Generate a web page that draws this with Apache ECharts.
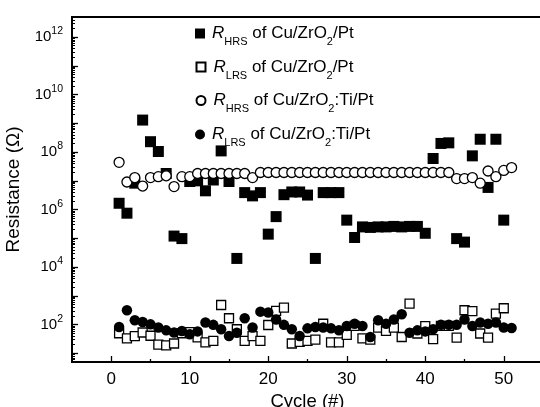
<!DOCTYPE html>
<html>
<head>
<meta charset="utf-8">
<script src="https://cdn.jsdelivr.net/npm/echarts@6/dist/echarts.min.js"></script>
<style>html,body{margin:0;padding:0;background:#fff}#c{width:540px;height:407px}</style>
</head>
<body>
<div id="c"></div>
<script>
const cyclesA = [1,2,3,4,5,6,7,8,9,10,11,12,13,14,15,16,17,18,19,20,21,22,23,24,25,26,27,28,29,30,31,32,33,34,35,36,37,38,39,40,41,42,43,44,45,46,47,48,49,50];
const cyclesB = [1,2,3,4,5,6,7,8,9,10,11,12,13,14,15,16,17,18,19,20,21,22,23,24,25,26,27,28,29,30,31,32,33,34,35,36,37,38,39,40,41,42,43,44,45,46,47,48,49,50,51];

// R_HRS of Cu/ZrO2/Pt (filled squares)
const hrsPt = [1.66e6,7.5e5,8.3e6,1.3e9,2.3e8,1.05e8,1.8e7,1.2e5,9.8e4,9.5e6,1.0e7,4.5e6,1.07e7,1.1e8,9.5e6,2.0e4,3.9e6,3.0e6,3.9e6,1.4e5,5.7e5,3.3e6,4.1e6,4.1e6,3.2e6,2.0e4,3.9e6,3.9e6,3.9e6,4.3e5,1.07e5,2.5e5,2.4e5,2.5e5,2.5e5,2.6e5,2.5e5,2.6e5,2.6e5,1.5e5,6.0e7,2.0e8,2.1e8,9.8e4,7.4e4,7.4e7,2.8e8,5.9e6,2.8e8,4.3e5];
// R_LRS of Cu/ZrO2/Pt (open squares)
const lrsPt = [50,33,40,53,41,20,19,22,50,55,36,24,27,480,166,69,27,40,27,97,300,390,22,25,27,30,107,24,24,44,90,33,30,79,60,79,37,540,49,89,31,90,90,35,316,295,49,35,240,370];
// R_HRS of Cu/ZrO2:Ti/Pt (open circles)
const hrsTi = [4.4e7,9.1e6,1.3e7,6.6e6,1.3e7,1.4e7,1.5e7,6.3e6,1.4e7,1.4e7,1.8e7,1.8e7,1.8e7,1.8e7,1.8e7,1.8e7,1.8e7,1.3e7,1.95e7,1.95e7,1.95e7,1.95e7,1.95e7,1.95e7,1.95e7,1.95e7,1.95e7,1.95e7,1.95e7,1.95e7,1.95e7,1.95e7,1.95e7,1.95e7,1.95e7,1.95e7,1.95e7,1.95e7,1.95e7,1.95e7,1.95e7,1.95e7,1.95e7,1.2e7,1.2e7,1.3e7,8.3e6,2.2e7,1.4e7,2.3e7,2.9e7];
// R_LRS of Cu/ZrO2:Ti/Pt (filled circles)
const lrsTi = [83,316,141,123,102,79,63,53,60,46,58,118,98,69,40,52,166,79,282,262,151,98,69,40,74,83,79,74,63,89,107,89,37,141,107,151,229,52,63,58,69,98,98,98,151,89,118,107,118,79,76];

const xMajorTicks = [0,10,20,30,40,50];
const xMinorTicks = [5,15,25,35,45];
const yMajorTicks = [1e1,1e2,1e3,1e4,1e5,1e6,1e7,1e8,1e9,1e10,1e11,1e12];
const yLabelTicks = [1e2,1e4,1e6,1e8,1e10,1e12];
const yMinorMultipliers = [2,3,4,5,6,7,8,9];
const yDecades = [1e0,1e1,1e2,1e3,1e4,1e5,1e6,1e7,1e8,1e9,1e10,1e11,1e12];

const legendNames = ['hrsPt','lrsPt','hrsTi','lrsTi'];
const legendTexts = {
  hrsPt: '{i|R}{sub|HRS} of Cu/ZrO{sub|2}/Pt',
  lrsPt: '{i|R}{sub|LRS} of Cu/ZrO{sub|2}/Pt',
  hrsTi: '{i|R}{sub|HRS} of Cu/ZrO{sub|2}:Ti/Pt',
  lrsTi: '{i|R}{sub|LRS} of Cu/ZrO{sub|2}:Ti/Pt'
};

const xMin = -5, xMax = 55;
const yMin = 5, yMax = 5e12;
const yMinor = [];
yDecades.forEach(d => yMinorMultipliers.forEach(m => { const v = d*m; if (v > yMin && v < yMax) yMinor.push(v); }));

const FONT = 'Liberation Sans';
const pair = (xs, ys) => ys.map((v, i) => [xs[i], v]);

const legendRich = {
  i: {fontStyle: 'italic', fontSize: 17, fontFamily: FONT, color: '#000', lineHeight: 22},
  sub: {fontSize: 11, fontFamily: FONT, color: '#000', verticalAlign: 'bottom', lineHeight: 12, padding: [0,0,-3,0]}
};
const legendTops = [17.5, 51, 84.5, 118.5];
const legendIcon = [10, 9, 9, 10];
const legendLeft = [190, 190.5, 190.5, 190];
const legends = legendNames.map((n, k) => ({
  data: [n], left: legendLeft[k], top: legendTops[k], orient: 'vertical',
  itemWidth: legendIcon[k], itemHeight: legendIcon[k], selectedMode: false,
  formatter: name => legendTexts[name],
  textStyle: {fontSize: 17, fontFamily: FONT, color: '#000', lineHeight: 22, padding: [0,0,0, 12 - legendIcon[k]], rich: legendRich}
}));

const lineStyleAxis = () => ({show: true, onZero: false, lineStyle: {color: '#000', width: 1.8}});

const chart = echarts.init(document.getElementById('c'), null, {renderer: 'canvas'});
chart.setOption({
  animation: false,
  backgroundColor: '#fff',
  legend: legends,
  grid: {left: 72, top: 17, right: -3, bottom: 45, containLabel: false, outerBoundsMode: 'none',
         show: true, borderColor: '#000', borderWidth: 1.8, backgroundColor: 'transparent'},
  xAxis: [
    {type: 'value', min: xMin, max: xMax, position: 'bottom',
     axisLine: lineStyleAxis(),
     axisTick: {show: true, inside: true, length: 6, lineStyle: {color: '#000', width: 1.3}, customValues: xMajorTicks},
     axisLabel: {show: true, customValues: xMajorTicks, fontSize: 17, fontFamily: FONT, color: '#000', margin: 9},
     splitLine: {show: false},
     name: 'Cycle (#)', nameLocation: 'middle', nameGap: 20,
     nameTextStyle: {fontSize: 18.5, fontFamily: FONT, color: '#000'}},
    {type: 'value', min: xMin, max: xMax, position: 'bottom',
     axisLine: lineStyleAxis(),
     axisTick: {show: true, inside: true, length: 3, lineStyle: {color: '#000', width: 1.3}, customValues: xMinorTicks},
     axisLabel: {show: false}, splitLine: {show: false}}
  ],
  yAxis: [
    {type: 'log', min: yMin, max: yMax, position: 'left',
     axisLine: lineStyleAxis(),
     axisTick: {show: true, inside: true, length: 6, lineStyle: {color: '#000', width: 1.3}, customValues: yMajorTicks},
     axisLabel: {show: true, customValues: yLabelTicks, margin: 9,
       formatter: v => '{b|10}{s|' + Math.round(Math.log10(v)) + '}',
       rich: {
         b: {fontSize: 15, fontFamily: FONT, color: '#000', lineHeight: 22},
         s: {fontSize: 10.5, fontFamily: FONT, color: '#000', verticalAlign: 'top', lineHeight: 12}
       }},
     splitLine: {show: false}, minorTick: {show: false},
     name: 'Resistance (Ω)', nameLocation: 'middle', nameGap: 40, nameRotate: 90,
     nameTextStyle: {fontSize: 19, fontFamily: FONT, color: '#000'}},
    {type: 'log', min: yMin, max: yMax, position: 'left',
     axisLine: lineStyleAxis(),
     axisTick: {show: true, inside: true, length: 3, lineStyle: {color: '#000', width: 1}, customValues: yMinor},
     axisLabel: {show: false}, splitLine: {show: false}}
  ],
  series: [
    {name: 'hrsPt', type: 'scatter', xAxisIndex: 0, yAxisIndex: 0, data: pair(cyclesA, hrsPt),
     symbol: 'rect', symbolSize: 11, itemStyle: {color: '#000', opacity: 1}},
    {name: 'lrsPt', type: 'scatter', xAxisIndex: 0, yAxisIndex: 0, data: pair(cyclesA, lrsPt),
     symbol: 'rect', symbolSize: 9, itemStyle: {color: '#fff', borderColor: '#000', borderWidth: 1.3, opacity: 1}},
    {name: 'hrsTi', type: 'scatter', xAxisIndex: 0, yAxisIndex: 0, data: pair(cyclesB, hrsTi),
     symbol: 'circle', symbolSize: 10, itemStyle: {color: '#fff', borderColor: '#000', borderWidth: 1.3, opacity: 1}},
    {name: 'lrsTi', type: 'scatter', xAxisIndex: 0, yAxisIndex: 0, data: pair(cyclesB, lrsTi),
     symbol: 'circle', symbolSize: 10.5, itemStyle: {color: '#000', opacity: 1}}
  ]
});
</script>
</body>
</html>
